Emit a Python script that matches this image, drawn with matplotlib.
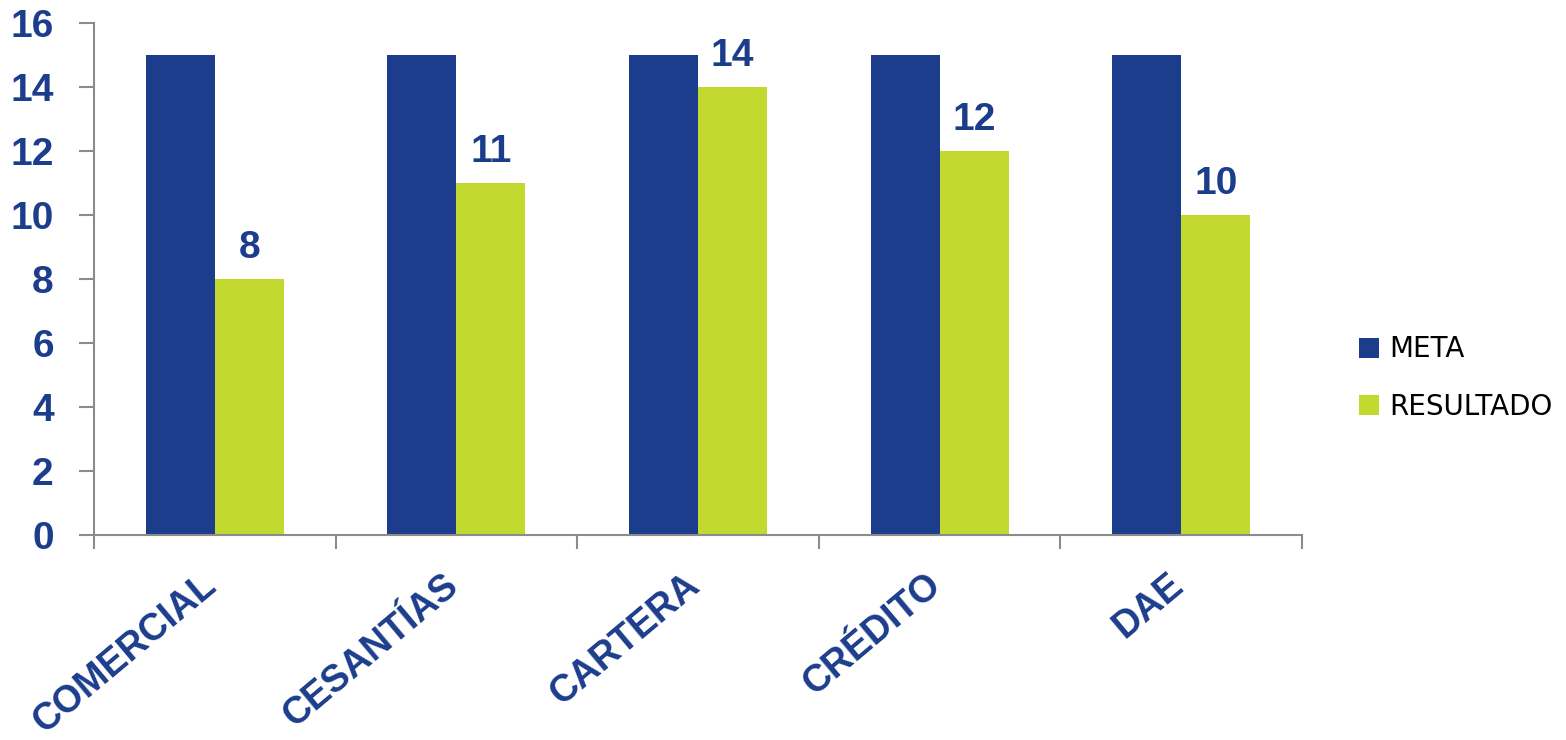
import matplotlib
matplotlib.use("Agg")
import matplotlib.pyplot as plt
import matplotlib.transforms as mtransforms
import numpy as np

categories = ["COMERCIAL", "CESANTÍAS", "CARTERA", "CRÉDITO", "DAE"]
meta = [15, 15, 15, 15, 15]
resultado = [8, 11, 14, 12, 10]
series_names = ["META", "RESULTADO"]
yticks = [0, 2, 4, 6, 8, 10, 12, 14, 16]

BLUE = "#1B3D8C"
GREEN = "#C2D92F"
GREY = "#8C8C8C"

fig = plt.figure(figsize=(15.66, 7.40), dpi=100)
ax = fig.add_axes([94/1566, 1-535/740, (1302-94)/1566, (535-23)/740])

x = np.arange(len(categories))
w = 0.286
b1 = ax.bar(x - w/2, meta, width=w, color=BLUE, label=series_names[0])
b2 = ax.bar(x + w/2, resultado, width=w, color=GREEN, label=series_names[1])

for rect, v in zip(b2, resultado):
    ax.annotate(f"{v}", (rect.get_x() + rect.get_width()/2, v),
                xytext=(0, 15), textcoords="offset points",
                ha="center", va="baseline", fontsize=28, fontweight="bold",
                color=BLUE, family="Liberation Sans")

ax.set_xlim(-0.5, len(categories) - 0.5)
ax.set_ylim(0, 16)
ax.set_yticks(yticks)
ax.set_yticklabels([str(t) for t in yticks])

# major ticks at category boundaries, labels on minor ticks at centers
ax.set_xticks(np.arange(len(categories) + 1) - 0.5)
ax.set_xticklabels([])
ax.set_xticks(x, minor=True)
ax.set_xticklabels(categories, minor=True, rotation=40, ha="right", va="top")
ax.tick_params(axis="x", which="major", length=10, width=1.5, color=GREY, direction="out")
ax.tick_params(axis="x", which="minor", length=0, pad=23)
ax.tick_params(axis="y", length=11, width=1.5, color=GREY, direction="out", pad=18)

for lab in ax.get_xticklabels(minor=True):
    lab.set_fontsize(27)
    lab.set_fontweight("bold")
    lab.set_color(BLUE)
    lab.set_family("Liberation Sans")
    lab.set_transform(lab.get_transform() + mtransforms.ScaledTranslation(9/100, 0, fig.dpi_scale_trans))
for lab in ax.get_yticklabels():
    lab.set_fontsize(28)
    lab.set_fontweight("bold")
    lab.set_color(BLUE)
    lab.set_family("Liberation Sans")

for s in ["top", "right"]:
    ax.spines[s].set_visible(False)
for s in ["left", "bottom"]:
    ax.spines[s].set_color(GREY)
    ax.spines[s].set_linewidth(1.5)

leg = fig.legend(handles=[b1, b2], labels=series_names, loc="center left",
                 bbox_to_anchor=(1334/1566, 1-378/740), frameon=False,
                 handlelength=0.72, handleheight=0.72, handletextpad=0.36,
                 labelspacing=1.05, prop={"family": "DejaVu Sans", "size": 20})

fig.savefig("out.png", dpi=100)
